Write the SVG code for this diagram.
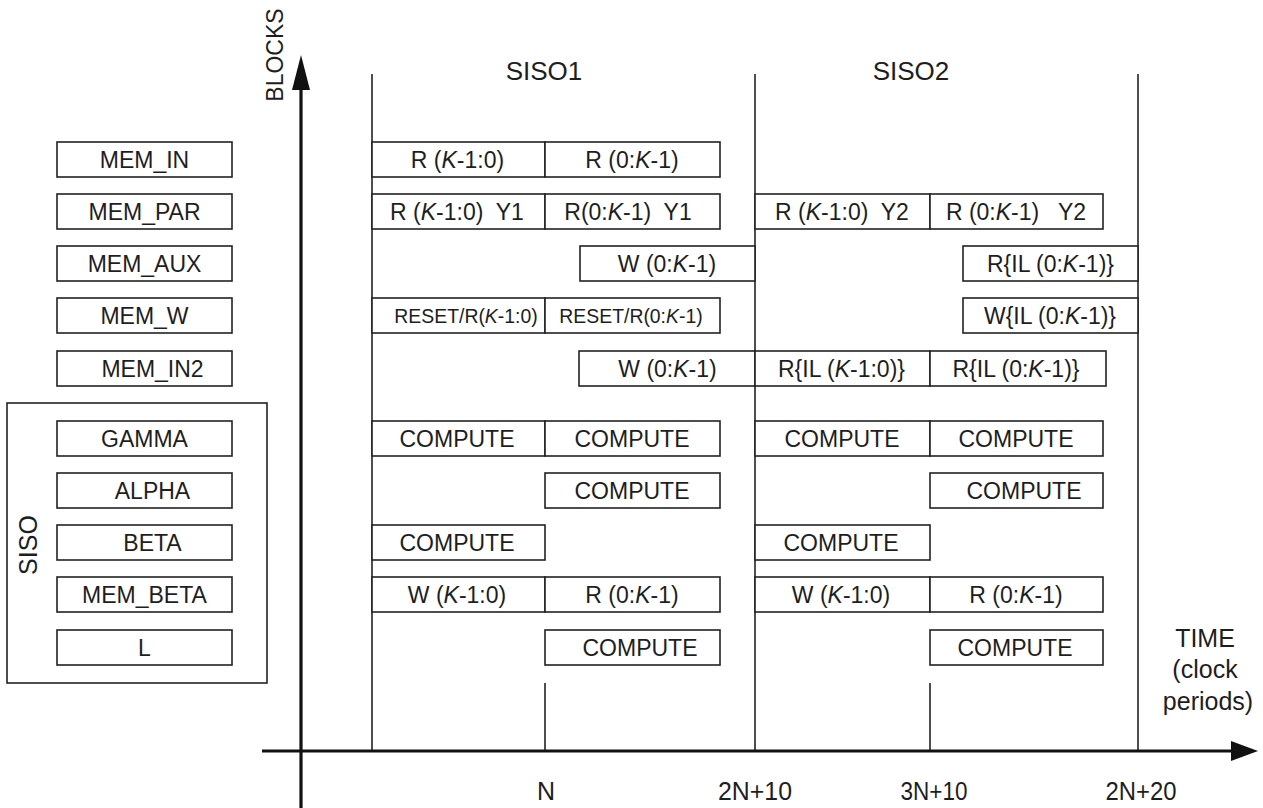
<svg xmlns="http://www.w3.org/2000/svg" width="1263" height="808" viewBox="0 0 1263 808">
<style>
text{font-family:"Liberation Sans",Arial,sans-serif;fill:#1e1e1e;}
.lbl{font-size:23px;text-anchor:middle;}
.sm{font-size:19.4px;text-anchor:middle;}
.big{font-size:26px;text-anchor:middle;}
.ax{font-size:25px;text-anchor:middle;}
.bx{fill:#fff;stroke:#222;stroke-width:1.6;}
.ln{stroke:#222;stroke-width:1.6;fill:none;}
.axis{stroke:#111;stroke-width:3.2;fill:none;}
.it{font-style:italic}
</style>
<rect width="1263" height="808" fill="#fff"/>
<g id="connectors">
<line class="ln" x1="372" y1="74" x2="372" y2="751"/>
<line class="ln" x1="755" y1="74" x2="755" y2="751"/>
<line class="ln" x1="1138" y1="74" x2="1138" y2="751"/>
<line class="ln" x1="545" y1="683" x2="545" y2="751"/>
<line class="ln" x1="930" y1="683" x2="930" y2="751"/>
<line class="axis" x1="301" y1="86" x2="301" y2="808"/>
<polygon points="301,55 292,90 310,90" fill="#111"/>
<line class="axis" x1="262" y1="751" x2="1234" y2="751"/>
<polygon points="1258,751 1231,741 1231,761" fill="#111"/>
</g>
<g id="axis-labels">
<text class="ax" transform="translate(283,55) rotate(-90)" style="font-size:23px">BLOCKS</text>
<text class="big" x="544" y="80">SISO1</text>
<text class="big" x="911" y="80">SISO2</text>
<text class="ax" x="1205" y="647">TIME</text>
<text class="ax" x="1205" y="678">(clock</text>
<text class="ax" x="1208" y="710">periods)</text>
<text class="ax" x="546" y="800">N</text>
<text class="ax" x="755" y="800" textLength="74" lengthAdjust="spacingAndGlyphs">2N+10</text>
<text class="ax" x="934" y="800" textLength="67" lengthAdjust="spacingAndGlyphs">3N+10</text>
<text class="ax" x="1141" y="800" textLength="71" lengthAdjust="spacingAndGlyphs">2N+20</text>
</g>
<g id="siso">
<rect class="bx" x="7" y="403" width="260" height="280"/>
<text class="ax" transform="translate(37,545) rotate(-90)">SISO</text>
</g>
<g id="blocks">
<g id="mem_in"><rect class="bx" x="57" y="142" width="175" height="35"/><text class="lbl" x="144.5" y="167.5">MEM_IN</text></g>
<g id="mem_par"><rect class="bx" x="57" y="194" width="175" height="35"/><text class="lbl" x="144.5" y="219.5">MEM_PAR</text></g>
<g id="mem_aux"><rect class="bx" x="57" y="246" width="175" height="35"/><text class="lbl" x="144.5" y="271.5">MEM_AUX</text></g>
<g id="mem_w"><rect class="bx" x="57" y="298" width="175" height="35"/><text class="lbl" x="144.5" y="323.5">MEM_W</text></g>
<g id="mem_in2"><rect class="bx" x="57" y="351" width="175" height="35"/><text class="lbl" x="152.5" y="376.5">MEM_IN2</text></g>
<g id="gamma"><rect class="bx" x="57" y="421" width="175" height="35"/><text class="lbl" x="144.5" y="446.5">GAMMA</text></g>
<g id="alpha"><rect class="bx" x="57" y="473" width="175" height="35"/><text class="lbl" x="152.5" y="498.5">ALPHA</text></g>
<g id="beta"><rect class="bx" x="57" y="525" width="175" height="35"/><text class="lbl" x="152.5" y="550.5">BETA</text></g>
<g id="mem_beta"><rect class="bx" x="57" y="577" width="175" height="35"/><text class="lbl" x="144.5" y="602.5">MEM_BETA</text></g>
<g id="l"><rect class="bx" x="57" y="630" width="175" height="35"/><text class="lbl" x="144.5" y="655.5">L</text></g>
</g>
<g id="schedule">
<g id="t-mem_in">
<rect class="bx" x="372" y="142" width="173" height="35"/><text class="lbl" x="457.5" y="167.5">R (<tspan class="it">K</tspan>-1:0)</text>
<rect class="bx" x="545" y="142" width="175" height="35"/><text class="lbl" x="632" y="167.5">R (0:<tspan class="it">K</tspan>-1)</text>
</g>
<g id="t-mem_par">
<rect class="bx" x="372" y="194" width="173" height="35"/><text class="lbl" x="457" y="219.5" xml:space="preserve">R (<tspan class="it">K</tspan>-1:0)  Y1</text>
<rect class="bx" x="545" y="194" width="175" height="35"/><text class="lbl" x="628" y="219.5" xml:space="preserve">R(0:<tspan class="it">K</tspan>-1)  Y1</text>
<rect class="bx" x="755" y="194" width="175" height="35"/><text class="lbl" x="842" y="219.5" xml:space="preserve">R (<tspan class="it">K</tspan>-1:0)  Y2</text>
<rect class="bx" x="930" y="194" width="173" height="35"/><text class="lbl" x="1016" y="219.5" xml:space="preserve">R (0:<tspan class="it">K</tspan>-1)   Y2</text>
</g>
<g id="t-mem_aux">
<rect class="bx" x="580" y="246" width="175" height="35"/><text class="lbl" x="667" y="271.5">W (0:<tspan class="it">K</tspan>-1)</text>
<rect class="bx" x="963" y="246" width="175" height="35"/><text class="lbl" x="1050.5" y="271.5">R{IL (0:<tspan class="it">K</tspan>-1)}</text>
</g>
<g id="t-mem_w">
<rect class="bx" x="372" y="298" width="173" height="35"/><text class="sm" x="466" y="322.5">RESET/R(<tspan class="it">K</tspan>-1:0)</text>
<rect class="bx" x="545" y="298" width="175" height="35"/><text class="sm" x="631" y="322.5">RESET/R(0:<tspan class="it">K</tspan>-1)</text>
<rect class="bx" x="963" y="298" width="175" height="35"/><text class="lbl" x="1050" y="323.5">W{IL (0:<tspan class="it">K</tspan>-1)}</text>
</g>
<g id="t-mem_in2">
<rect class="bx" x="579" y="351" width="176" height="35"/><text class="lbl" x="667.5" y="376.5">W (0:<tspan class="it">K</tspan>-1)</text>
<rect class="bx" x="755" y="351" width="175" height="35"/><text class="lbl" x="841.5" y="376.5">R{IL (<tspan class="it">K</tspan>-1:0)}</text>
<rect class="bx" x="930" y="351" width="176" height="35"/><text class="lbl" x="1016" y="376.5">R{IL (0:<tspan class="it">K</tspan>-1)}</text>
</g>
<g id="t-gamma">
<rect class="bx" x="372" y="421" width="173" height="35"/><text class="lbl" x="457" y="446.5">COMPUTE</text>
<rect class="bx" x="545" y="421" width="175" height="35"/><text class="lbl" x="632" y="446.5">COMPUTE</text>
<rect class="bx" x="755" y="421" width="175" height="35"/><text class="lbl" x="842" y="446.5">COMPUTE</text>
<rect class="bx" x="930" y="421" width="173" height="35"/><text class="lbl" x="1016" y="446.5">COMPUTE</text>
</g>
<g id="t-alpha">
<rect class="bx" x="545" y="473" width="175" height="35"/><text class="lbl" x="632" y="498.5">COMPUTE</text>
<rect class="bx" x="930" y="473" width="173" height="35"/><text class="lbl" x="1024" y="498.5">COMPUTE</text>
</g>
<g id="t-beta">
<rect class="bx" x="372" y="525" width="173" height="35"/><text class="lbl" x="457" y="550.5">COMPUTE</text>
<rect class="bx" x="755" y="525" width="175" height="35"/><text class="lbl" x="841" y="550.5">COMPUTE</text>
</g>
<g id="t-mem_beta">
<rect class="bx" x="372" y="577" width="173" height="35"/><text class="lbl" x="457" y="602.5">W (<tspan class="it">K</tspan>-1:0)</text>
<rect class="bx" x="545" y="577" width="175" height="35"/><text class="lbl" x="632" y="602.5">R (0:<tspan class="it">K</tspan>-1)</text>
<rect class="bx" x="755" y="577" width="175" height="35"/><text class="lbl" x="841" y="602.5">W (<tspan class="it">K</tspan>-1:0)</text>
<rect class="bx" x="930" y="577" width="173" height="35"/><text class="lbl" x="1016" y="602.5">R (0:<tspan class="it">K</tspan>-1)</text>
</g>
<g id="t-l">
<rect class="bx" x="545" y="630" width="175" height="35"/><text class="lbl" x="640" y="655.5">COMPUTE</text>
<rect class="bx" x="930" y="630" width="173" height="35"/><text class="lbl" x="1015" y="655.5">COMPUTE</text>
</g>
</g>
</svg>
